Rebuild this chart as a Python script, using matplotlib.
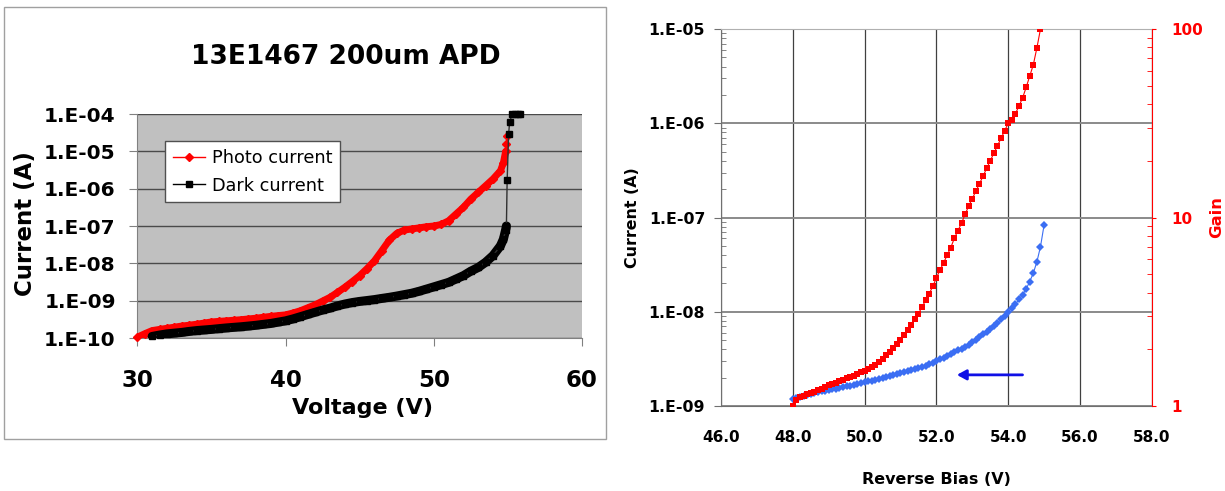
import numpy as np
import matplotlib
matplotlib.use("Agg")
import matplotlib.pyplot as plt
from matplotlib.lines import Line2D
from matplotlib.patches import Rectangle
from matplotlib.ticker import FixedLocator, FuncFormatter, LogLocator, NullLocator, NullFormatter

# --- 13E1467 200um APD, I-V sweep ---
photo_voltage = [30.0, 30.5, 31.0, 31.5, 32.0, 32.5, 33.0, 33.5, 34.0, 34.5,
                 35.0, 35.5, 36.0, 36.5, 37.0, 37.5, 38.0, 38.5, 39.0, 39.5,
                 40.0, 40.5, 41.0, 41.5, 42.0, 42.5, 43.0, 43.5, 44.0, 44.5,
                 45.0, 45.5, 46.0, 46.5, 47.0, 47.5, 48.0, 48.5, 49.0, 49.5,
                 50.0, 50.5, 51.0, 51.5, 52.0, 52.5, 53.0, 53.5, 54.0, 54.5,
                 54.7, 54.85, 54.9, 54.95]
photo_current = [1.05e-10, 1.30e-10, 1.58e-10, 1.70e-10, 1.82e-10, 1.95e-10, 2.09e-10, 2.20e-10, 2.34e-10, 2.51e-10,
                 2.69e-10, 2.79e-10, 2.88e-10, 2.99e-10, 3.09e-10, 3.24e-10, 3.39e-10, 3.59e-10, 3.80e-10, 3.98e-10,
                 4.17e-10, 4.68e-10, 5.37e-10, 6.46e-10, 7.76e-10, 9.77e-10, 1.23e-9, 1.66e-9, 2.29e-9, 3.24e-9,
                 4.68e-9, 7.24e-9, 1.17e-8, 2.19e-8, 4.17e-8, 6.31e-8, 7.76e-8, 8.32e-8, 8.91e-8, 9.55e-8,
                 1.00e-7, 1.10e-7, 1.38e-7, 2.09e-7, 3.16e-7, 5.25e-7, 7.94e-7, 1.20e-6, 1.82e-6, 3.02e-6,
                 5.01e-6, 1.00e-5, 1.58e-5, 2.51e-5]

dark_voltage = [31.0, 31.5, 32.0, 32.5, 33.0, 33.5, 34.0, 34.5,
                35.0, 35.5, 36.0, 36.5, 37.0, 37.5, 38.0, 38.5, 39.0, 39.5,
                40.0, 40.5, 41.0, 41.5, 42.0, 42.5, 43.0, 43.5, 44.0, 44.5,
                45.0, 45.5, 46.0, 46.5, 47.0, 47.5, 48.0, 48.5, 49.0, 49.5,
                50.0, 50.5, 51.0, 51.5, 52.0, 52.5, 53.0, 53.5, 54.0, 54.5,
                54.7, 54.85, 54.9, 54.95, 55.05, 55.12, 55.3, 55.5, 55.7, 55.85]
dark_current = [1.10e-10, 1.20e-10, 1.29e-10, 1.35e-10, 1.41e-10, 1.50e-10, 1.58e-10, 1.64e-10,
                1.70e-10, 1.78e-10, 1.86e-10, 1.93e-10, 2.00e-10, 2.09e-10, 2.19e-10, 2.32e-10, 2.45e-10, 2.66e-10,
                2.88e-10, 3.24e-10, 3.72e-10, 4.27e-10, 4.90e-10, 5.62e-10, 6.31e-10, 7.24e-10, 8.13e-10, 8.91e-10,
                9.55e-10, 1.01e-9, 1.07e-9, 1.15e-9, 1.23e-9, 1.33e-9, 1.45e-9, 1.58e-9, 1.78e-9, 2.04e-9,
                2.34e-9, 2.69e-9, 3.09e-9, 3.80e-9, 4.68e-9, 6.17e-9, 7.76e-9, 1.07e-8, 1.62e-8, 2.95e-8,
                4.47e-8, 7.94e-8, 1.00e-7, 1.66e-6, 2.95e-5, 6.17e-5, 1.0e-4, 1.0e-4, 1.0e-4, 1.0e-4]

iv_xticks = [30, 40, 50, 60]
iv_decades = [1e-10, 1e-9, 1e-8, 1e-7, 1e-6, 1e-5, 1e-4]

# --- reverse bias sweep: dark current (left axis) and gain (right axis) ---
bias_v = [48.0, 48.1, 48.2, 48.3, 48.4, 48.5, 48.6, 48.7, 48.8, 48.9,
          49.0, 49.1, 49.2, 49.3, 49.4, 49.5, 49.6, 49.7, 49.8, 49.9,
          50.0, 50.1, 50.2, 50.3, 50.4, 50.5, 50.6, 50.7, 50.8, 50.9,
          51.0, 51.1, 51.2, 51.3, 51.4, 51.5, 51.6, 51.7, 51.8, 51.9,
          52.0, 52.1, 52.2, 52.3, 52.4, 52.5, 52.6, 52.7, 52.8, 52.9,
          53.0, 53.1, 53.2, 53.3, 53.4, 53.5, 53.6, 53.7, 53.8, 53.9,
          54.0, 54.1, 54.2, 54.3, 54.4, 54.5, 54.6, 54.7, 54.8, 54.9,
          55.0]
bias_current_na = [1.20, 1.23, 1.26, 1.29, 1.32, 1.35, 1.38, 1.41, 1.43, 1.45,
                   1.48, 1.51, 1.53, 1.55, 1.58, 1.62, 1.64, 1.66, 1.70, 1.74,
                   1.78, 1.82, 1.86, 1.91, 1.95, 2.00, 2.04, 2.09, 2.14, 2.19,
                   2.24, 2.29, 2.34, 2.40, 2.46, 2.52, 2.60, 2.69, 2.80, 2.88,
                   3.02, 3.16, 3.24, 3.39, 3.55, 3.72, 3.89, 4.07, 4.27, 4.47,
                   4.79, 5.01, 5.37, 5.75, 6.17, 6.61, 7.08, 7.59, 8.32, 9.12,
                   10.0, 11.0, 12.0, 13.5, 15.1, 17.4, 20.9, 25.7, 33.9, 49.0,
                   83.2]
gain = [1.00, 1.07, 1.11, 1.13, 1.16, 1.17, 1.19, 1.21, 1.23, 1.26,
        1.29, 1.31, 1.33, 1.35, 1.37, 1.40, 1.42, 1.45, 1.48, 1.51,
        1.53, 1.57, 1.61, 1.66, 1.72, 1.78, 1.86, 1.94, 2.03, 2.13,
        2.24, 2.38, 2.53, 2.70, 2.89, 3.09, 3.35, 3.63, 3.95, 4.31,
        4.79, 5.25, 5.75, 6.31, 6.92, 7.76, 8.51, 9.33, 10.4, 11.5,
        12.6, 13.8, 15.1, 16.6, 18.2, 20.0, 21.9, 24.0, 26.3, 28.8,
        31.6, 33.0, 35.5, 39.0, 43.0, 49.0, 56.2, 64.6, 79.4, 100.0]

bias_xticks = [46.0, 48.0, 50.0, 52.0, 54.0, 56.0, 58.0]
bias_decades = [1e-9, 1e-8, 1e-7, 1e-6, 1e-5]
gain_decades = [1, 10, 100]
arrow_tail = (54.4, 2.14e-9)
arrow_head = (52.57, 2.14e-9)

RED = "#ff0000"
BLUE = "#3b6ef3"

plt.rcParams["font.family"] = "DejaVu Sans"
plt.rcParams["font.weight"] = "bold"
plt.rcParams["axes.labelweight"] = "bold"


def excel_sci(value, pos=None):
    return f"1.E{int(round(np.log10(value))):03d}"


fig = plt.figure(figsize=(12.25, 4.91), dpi=100)

# chart frame around the I-V plot
fig.add_artist(Rectangle((0.0033, 0.1059), 0.4914, 0.8798, transform=fig.transFigure,
                         fill=False, edgecolor="#a0a0a0", linewidth=1.0))

# ---------------- left: I-V curves ----------------
ax = fig.add_axes([0.1121, 0.3116, 0.3630, 0.4562])
ax.set_facecolor("#c0c0c0")
ax.set_yscale("log")
ax.set_xlim(30, 60)
ax.set_ylim(1e-10, 1e-4)
ax.set_xticks(iv_xticks)
ax.yaxis.set_major_locator(FixedLocator(iv_decades))
ax.yaxis.set_minor_locator(NullLocator())
ax.yaxis.set_major_formatter(FuncFormatter(excel_sci))
ax.set_axisbelow(True)
ax.grid(axis="y", color="#4a4a4a", linewidth=1.0)
for side in ("top", "right"):
    ax.spines[side].set_visible(False)
for side in ("left", "bottom"):
    ax.spines[side].set_color("#808080")
ax.tick_params(axis="y", direction="out", length=5.5, color="#808080", pad=10, labelsize=14.5)
ax.tick_params(axis="x", direction="out", length=6, color="#808080", pad=16, labelsize=16.5)

pv = np.array(photo_voltage)
pc = np.array(photo_current)
dv = np.array(dark_voltage)
dc = np.array(dark_current)

band = pv <= 54.85
ax.plot(pv[band], pc[band], color=RED, linewidth=5, solid_capstyle="round", zorder=3)
ax.plot(pv, pc, color=RED, linewidth=1, marker="D", markersize=4, zorder=3, clip_on=False)
band = dv <= 54.9
ax.plot(dv[band], dc[band], color="black", linewidth=6.5, solid_capstyle="round", zorder=4)
ax.plot(dv, dc, color="#303030", linewidth=1, marker="s", markersize=5,
        markerfacecolor="black", markeredgecolor="black", zorder=4, clip_on=False)

handles = [
    Line2D([], [], color=RED, linewidth=1, marker="D", markersize=4),
    Line2D([], [], color="black", linewidth=1, marker="s", markersize=5),
]
leg = ax.legend(handles, ["Photo current", "Dark current"], loc="upper left",
                bbox_to_anchor=(0.062, 0.88), borderaxespad=0, fancybox=False,
                framealpha=1, edgecolor="#505050", handlelength=1.8, handletextpad=0.4,
                labelspacing=0.55, borderpad=0.45, prop={"size": 12.7, "weight": "normal"})
leg.get_frame().set_linewidth(1.0)

ax.text(0.469, 1.254, "13E1467 200um APD", transform=ax.transAxes,
        ha="center", va="center", fontsize=19, fontweight="bold")
ax.set_xlabel("Voltage (V)", fontsize=16, fontweight="bold")
ax.xaxis.set_label_coords(0.5075, -0.3125)
ax.xaxis.label.set_va("center")
ax.set_ylabel("Current (A)", fontsize=16.5, fontweight="bold")
ax.yaxis.set_label_coords(-0.2525, 0.509)
ax.yaxis.label.set_va("center")

# ---------------- right: current and gain vs reverse bias ----------------
bx = fig.add_axes([0.5886, 0.1731, 0.3516, 0.7678])
bx.set_yscale("log")
bx.set_xlim(46, 58)
bx.set_ylim(1e-9, 1e-5)
bx.set_xticks(bias_xticks)
bx.set_xticklabels([f"{v:.1f}" for v in bias_xticks])
bx.yaxis.set_major_locator(FixedLocator(bias_decades))
bx.yaxis.set_minor_locator(LogLocator(base=10, subs=np.arange(2, 10)))
bx.yaxis.set_minor_formatter(NullFormatter())
bx.yaxis.set_major_formatter(FuncFormatter(excel_sci))
bx.set_axisbelow(True)
bx.grid(axis="x", color="#404040", linewidth=0.9)
bx.grid(axis="y", which="major", color="#8a8a8a", linewidth=1.4)
bx.spines["right"].set_visible(False)
bx.spines["top"].set_color("#b0b0b0")
bx.spines["left"].set_color("#707070")
bx.spines["bottom"].set_color("#707070")
bx.tick_params(axis="x", length=0, pad=17, labelsize=11)
bx.tick_params(axis="y", which="major", direction="out", length=5, color="#707070", pad=6.5, labelsize=11.3)
bx.tick_params(axis="y", which="minor", direction="in", length=3.5, color="#707070")

bias = np.array(bias_v)
current = np.array(bias_current_na) * 1e-9
bx.plot(bias, current, color=BLUE, linewidth=0.8, marker="D", markersize=3.8,
        markeredgewidth=0, zorder=3)
bx.annotate("", xy=arrow_head, xytext=arrow_tail,
            arrowprops=dict(arrowstyle="-|>,head_length=0.55,head_width=0.3",
                            color="#1010e6", linewidth=2, shrinkA=0, shrinkB=0))

bx.set_xlabel("Reverse Bias (V)", fontsize=11.5, fontweight="bold")
bx.xaxis.set_label_coords(0.499, -0.196)
bx.xaxis.label.set_va("center")
bx.set_ylabel("Current (A)", fontsize=11.4, fontweight="bold")
bx.yaxis.set_label_coords(-0.2066, 0.501)
bx.yaxis.label.set_va("center")

gx = bx.twinx()
gx.set_yscale("log")
gx.set_ylim(1, 100)
gx.yaxis.set_major_locator(FixedLocator(gain_decades))
gx.yaxis.set_major_formatter(FuncFormatter(lambda v, pos: f"{v:g}"))
gx.yaxis.set_minor_locator(LogLocator(base=10, subs=np.arange(2, 10)))
gx.yaxis.set_minor_formatter(NullFormatter())
for side in ("top", "left", "bottom"):
    gx.spines[side].set_visible(False)
gx.spines["right"].set_color(RED)
gx.tick_params(axis="y", which="major", direction="out", length=3, color=RED,
               labelcolor=RED, pad=11, labelsize=11)
gx.tick_params(axis="y", which="minor", direction="in", length=3.5, color=RED)

gx.plot(bias[:len(gain)], gain, color=RED, linewidth=0.8, marker="s", markersize=4.8,
        markeredgewidth=0, zorder=3)
gx.set_ylabel("Gain", color=RED, fontsize=11.8, fontweight="bold")
gx.yaxis.set_label_coords(1.1516, 0.50)
gx.yaxis.label.set_va("center")

fig.savefig("out.png", dpi=100)
